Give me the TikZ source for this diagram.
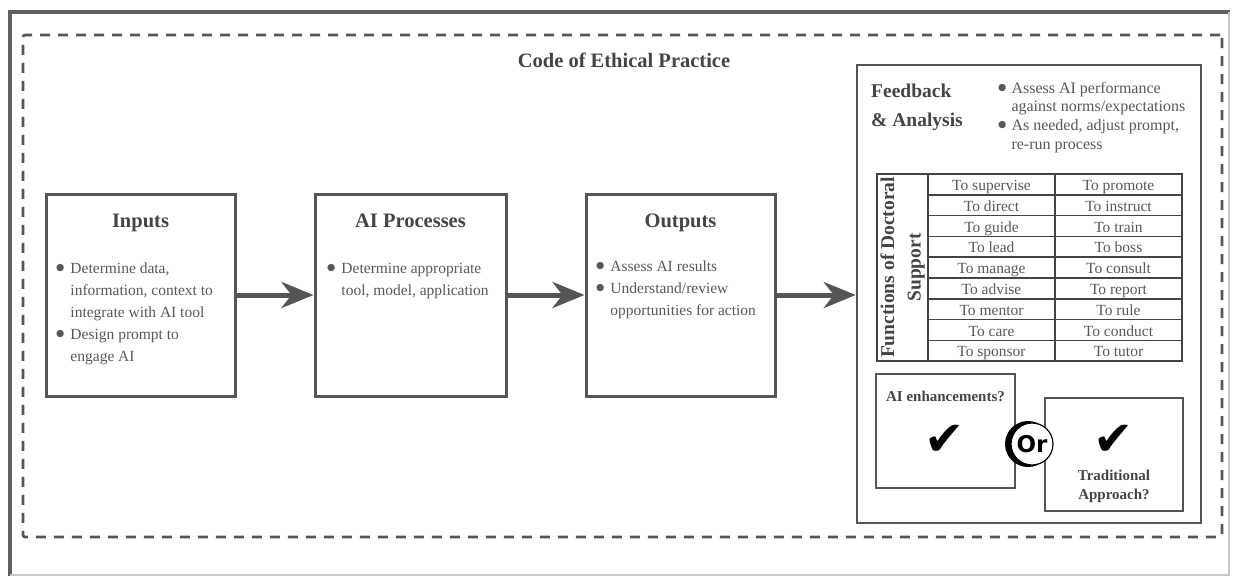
\documentclass[tikz,border=0pt]{standalone}
\usepackage{fontspec}
\setmainfont{Liberation Serif}
\newfontfamily\symfont{DejaVu Sans}
\usetikzlibrary{arrows.meta}
\definecolor{linegray}{HTML}{555555}
\definecolor{textgray}{HTML}{585858}
\definecolor{headgray}{HTML}{444444}
\newcommand{\bulletdot}{\raisebox{2.5pt}{\symfont\fontsize{9.5}{9.5}\selectfont ●}}

\begin{document}
\begin{tikzpicture}[x=1pt, y=-1pt,
  box/.style={draw=linegray, line width=3pt, minimum width=189pt, minimum height=202pt},
  head/.style={anchor=base, inner sep=0pt, text=headgray, font=\fontsize{20.5}{24}\selectfont\bfseries},
  bullets/.style={anchor=base west, inner sep=0pt, text=textgray, font=\fontsize{15.5}{22}\selectfont},
  flow/.style={draw=linegray, line width=5pt, -{Stealth[length=32pt, width=26pt, inset=10pt]}},
  cell/.style={anchor=base, inner sep=0pt, text=textgray, font=\fontsize{15.5}{18}\selectfont},
  choice/.style={draw=linegray, line width=2.5pt, minimum width=138pt, minimum height=113pt},
  choicelab/.style={anchor=base, inner sep=0pt, text=headgray, font=\fontsize{15}{19}\selectfont\bfseries},
  tick/.style={anchor=base, inner sep=0pt, text height=28pt, text depth=0pt, font=\symfont\fontsize{48}{48}\selectfont}
]
\useasboundingbox (0,0) rectangle (1233,576);
\draw[line width=4pt, draw=gray!75!black] (10,576) -- (10,12) -- (1230,12);
\draw[line width=1.2pt, draw=black!22] (1229,12) -- (1229,575) -- (10,575);

\node[draw=linegray, line width=2.6pt, dash pattern=on 10pt off 8pt, rounded corners=2pt,
  minimum width=1199pt, minimum height=502pt] (ethics) at (622.5,286) {};
\node[head] (ethicstitle) at (624,67) {Code of Ethical Practice};

\node[box] (inputs) at (140.5,295) {};
\node[box, minimum width=191pt] (aiproc) at (410.5,295) {};
\node[box] (outputs) at (680.5,295) {};
\node[draw=linegray, line width=2.5pt, minimum width=344pt, minimum height=458pt] (feedback) at (1029,294) {};

\node[head] (inputshead) at (140.5,227) {Inputs};
\node[head] (aiprochead) at (410.5,227) {AI Processes};
\node[head] (outputshead) at (680.5,227) {Outputs};

\node[bullets] (inputslist) at (56,273) {\begin{tabular}[t]{@{}l@{\hspace{6pt}}l@{}}
\bulletdot & Determine data,\\
 & information, context to\\
 & integrate with AI tool\\
\bulletdot & Design prompt to\\
 & engage AI\end{tabular}};
\node[bullets] (aiproclist) at (327,273) {\begin{tabular}[t]{@{}l@{\hspace{6pt}}l@{}}
\bulletdot & Determine appropriate\\
 & tool, model, application\end{tabular}};
\node[bullets] (outputslist) at (596,271) {\begin{tabular}[t]{@{}l@{\hspace{6pt}}l@{}}
\bulletdot & Assess AI results\\
\bulletdot & Understand/review\\
 & opportunities for action\end{tabular}};

\draw[flow] (inputs) -- (aiproc);
\draw[flow] (aiproc) -- (outputs);
\draw[flow] (outputs.east) -- (outputs.east -| feedback.west);

\node[anchor=base west, inner sep=0pt, text=headgray, font=\fontsize{19.5}{29}\selectfont\bfseries] (feedbackhead) at (871,97)
  {\begin{tabular}[t]{@{}l@{}}Feedback\\\& Analysis\end{tabular}};
\node[bullets, font=\fontsize{16}{18.7}\selectfont] (feedbacklist) at (998,93) {\begin{tabular}[t]{@{}l@{\hspace{5pt}}l@{}}
\bulletdot & Assess AI performance\\
 & against norms/expectations\\
\bulletdot & As needed, adjust prompt,\\
 & re-run process\end{tabular}};

\draw[line width=2.4pt, draw=headgray] (877,174) rectangle (1182,361);
\draw[line width=2.4pt, draw=headgray] (928,174) -- (928,361);
\draw[line width=1.6pt, draw=headgray] (1055,174) -- (1055,361);
\foreach \k in {1,...,8}
  \draw[line width=1.6pt, draw=headgray] (928,174+20.8*\k) -- (1182,174+20.8*\k);
\node[rotate=90, inner sep=0pt, align=center, text=headgray, font=\fontsize{19.5}{26.5}\selectfont\bfseries] (functions) at (902.5,267.5)
  {Functions of Doctoral\\Support};
\foreach \a/\b [count=\i from 0] in {supervise/promote, direct/instruct, guide/train, lead/boss, manage/consult,
    advise/report, mentor/rule, care/conduct, sponsor/tutor} {
  \node[cell] (left\i) at (991.5,190.5+20.8*\i) {To \a};
  \node[cell] (right\i) at (1118.5,190.5+20.8*\i) {To \b};
}

\node[choice, minimum width=139pt, minimum height=114pt] (aichoice) at (945.5,431) {};
\node[choice] (tradchoice) at (1114,454.5) {};
\node[choicelab] (aichoicelab) at (945.5,401) {AI enhancements?};
\node[choicelab] (tradchoicelab) at (1114,480) {\begin{tabular}[t]{@{}c@{}}Traditional\\Approach?\end{tabular}};
\node[tick] (aitick) at (945,455) {✔};
\node[tick] (tradtick) at (1114,455) {✔};
\node[circle, fill=black, minimum size=46pt, inner sep=0pt] (orshade) at (1028,444) {};
\node[circle, draw=black, fill=white, line width=1.2pt, minimum size=42pt, inner sep=0pt,
  font=\symfont\bfseries\fontsize{23}{23}\selectfont] (orsign) at (1032,444) {Or};
\end{tikzpicture}
\end{document}
